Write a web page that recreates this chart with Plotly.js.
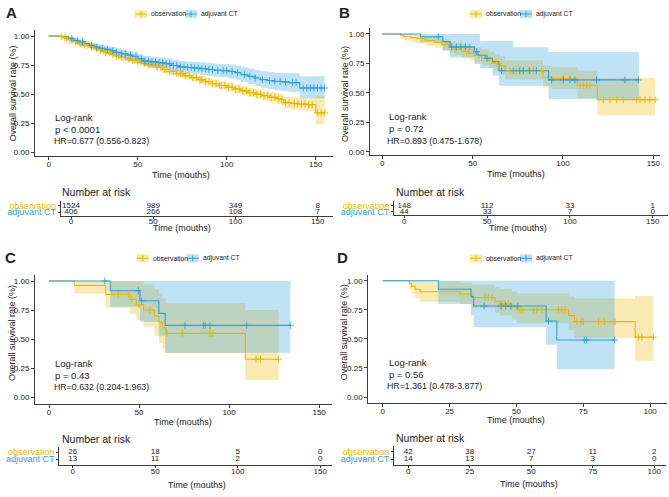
<!DOCTYPE html>
<html>
<head>
<meta charset="utf-8">
<script src="https://cdn.plot.ly/plotly-3.0.1.min.js"></script>
<style>
  html, body { margin: 0; padding: 0; background: #fff; }
  #chart { width: 669px; height: 497px; }
</style>
</head>
<body>
<div id="chart"></div>
<script>
// ---------------- Kaplan-Meier data (time in months, survival proportion) ----------------
const groupNames = ['observation', 'adjuvant CT'];

// Panel A
const aObsTime  = [0,6,8,10,12,14,16,18,20,23,26,29,32,35,38,41,44,47,50,53,56,60,64,68,72,76,80,84,88,92,96,100,104,108,112,116,120,124,128,131,132,136,140,145,150,155];
const aObsSurv  = [1.0,0.996,0.988,0.978,0.966,0.952,0.94,0.93,0.92,0.905,0.89,0.872,0.855,0.842,0.828,0.815,0.803,0.79,0.778,0.765,0.752,0.732,0.713,0.695,0.677,0.658,0.642,0.625,0.608,0.59,0.575,0.56,0.545,0.529,0.514,0.5,0.487,0.474,0.462,0.454,0.428,0.422,0.416,0.41,0.34,0.34];
const aObsLower = [1.0,0.993,0.983,0.971,0.957,0.942,0.929,0.918,0.906,0.89,0.874,0.855,0.837,0.823,0.808,0.794,0.781,0.767,0.754,0.74,0.726,0.705,0.685,0.666,0.647,0.627,0.61,0.592,0.574,0.555,0.539,0.523,0.507,0.49,0.474,0.459,0.445,0.43,0.416,0.406,0.378,0.37,0.363,0.355,0.24,0.24];
const aObsUpper = [1.0,0.999,0.993,0.985,0.975,0.962,0.951,0.942,0.934,0.92,0.906,0.889,0.873,0.861,0.848,0.836,0.825,0.813,0.802,0.79,0.778,0.759,0.741,0.724,0.707,0.689,0.674,0.658,0.642,0.625,0.611,0.597,0.583,0.568,0.554,0.541,0.529,0.518,0.508,0.502,0.478,0.474,0.469,0.465,0.483,0.483];
const aObsCensor = [7,9,10,12,13,15,17,18,20,22,24,25,27,29,31,32,34,36,38,39,41,43,45,47,48,50,52,54,56,57,59,61,63,65,66,68,70,72,74,75,77,79,81,83,85,86,88,90,92,94,96,97,99,101,103,105,107,109,111,113,115,117,119,121,123,125,127,129,131,133,135,138,140,142,144,146,148,151,153,155];

const aAdjTime  = [0,8,11,14,17,20,23,26,29,32,35,38,41,44,47,50,53,57,61,65,69,73,77,81,85,89,93,97,101,105,108,112,116,119,123,127,131,135,141,155];
const aAdjSurv  = [1.0,0.995,0.98,0.962,0.95,0.935,0.92,0.906,0.895,0.885,0.873,0.86,0.848,0.836,0.826,0.805,0.785,0.778,0.77,0.762,0.747,0.735,0.73,0.725,0.72,0.712,0.706,0.703,0.695,0.685,0.668,0.655,0.64,0.626,0.618,0.61,0.606,0.6,0.554,0.554];
const aAdjLower = [1.0,0.988,0.968,0.946,0.93,0.913,0.896,0.88,0.867,0.855,0.841,0.826,0.812,0.799,0.787,0.764,0.742,0.734,0.725,0.715,0.699,0.685,0.679,0.673,0.667,0.657,0.65,0.646,0.636,0.624,0.605,0.589,0.571,0.555,0.545,0.535,0.528,0.52,0.465,0.465];
const aAdjUpper = [1.0,1.0,0.992,0.978,0.97,0.957,0.944,0.932,0.923,0.915,0.905,0.894,0.884,0.873,0.865,0.846,0.828,0.822,0.815,0.809,0.795,0.785,0.781,0.777,0.773,0.767,0.762,0.76,0.754,0.746,0.731,0.721,0.709,0.697,0.691,0.685,0.684,0.68,0.655,0.655];
const aAdjCensor = [13,16,19,24,27,30,33,36,38,41,43,46,49,52,54,56,58,60,62,64,66,68,70,72,74,76,78,80,82,84,86,88,90,92,95,98,100,103,106,110,113,116,120,124,127,130,133,137,139,143,145,147,149,151,153,155];

// Panel B
const bObsTime  = [0,10,12,16,19,24,29,33,37,40,44,48,51,55,59,62,65,68,89,94,108,119,151];
const bObsSurv  = [1,0.99,0.977,0.97,0.962,0.945,0.93,0.91,0.89,0.872,0.852,0.835,0.82,0.8,0.775,0.755,0.728,0.69,0.632,0.62,0.564,0.442,0.442];
const bObsLower = [1,0.96,0.945,0.93,0.92,0.9,0.885,0.862,0.84,0.82,0.797,0.777,0.76,0.736,0.708,0.685,0.655,0.614,0.546,0.532,0.454,0.309,0.309];
const bObsUpper = [1,1,1,1,0.992,0.98,0.97,0.955,0.94,0.927,0.91,0.897,0.885,0.87,0.85,0.833,0.81,0.776,0.73,0.72,0.69,0.626,0.626];
const bObsCensor = [40.2,46.7,50.4,55,57.8,60.5,63.3,66,70.7,74.4,78,80.8,83.6,88.2,100.2,103.9,109.4,111.2,113.1,114.9,122.3,126,129.7,133.4,140.8,142.6,145.4,148.1,151];

const bAdjTime  = [0,21,33.5,37.5,51,53,57,61,64.5,92,142];
const bAdjSurv  = [1,0.977,0.935,0.89,0.85,0.82,0.793,0.765,0.688,0.61,0.61];
const bAdjBandTime = [0,21,33.5,37.5,51,54,61,64.5,72.5,92,142];
const bAdjLower = [1,0.93,0.86,0.8,0.745,0.71,0.645,0.56,0.56,0.448,0.448];
const bAdjUpper = [1,1,1,1,1,0.94,0.94,0.94,0.887,0.847,0.847];
const bAdjCensor = [31,38.4,41,43.5,46,48.5,52.2,58,66,72.5,76,78,81.6,85.3,93.7,100.2,103.9,106.6,118.6,134.3,141.7];

// Panel C
const cObsTime  = [0,14,31.5,45,48.5,52.5,58.5,61,63,65,109,127.5];
const cObsSurv  = [1,0.962,0.885,0.843,0.796,0.751,0.7,0.65,0.6,0.551,0.329,0.329];
const cObsLower = [1,0.894,0.77,0.72,0.666,0.61,0.53,0.47,0.42,0.38,0.151,0.151];
const cObsUpper = [1,1,1,1,1,0.97,0.93,0.89,0.85,0.81,0.751,0.751];
const cObsCensor = [38.5,44,46,50,56,65.5,74,89,90,91,115,117.5,127.5];

const cAdjTime  = [0,34,50.5,61,64.5,134];
const cAdjSurv  = [1,0.917,0.831,0.723,0.62,0.62];
const cAdjLower = [1,0.78,0.65,0.53,0.386,0.386];
const cAdjUpper = [1,1,1,1,1,1];
const cAdjCensor = [31,49.6,51.5,75.5,85.7,86.7,89.4,109.8,134];

// Panel D
const dObsTime  = [0,9.9,10.8,12.1,14,28.9,33.3,42,43.9,48.3,50.1,69.5,71.7,94.4,101.2];
const dObsSurv  = [1,0.977,0.95,0.927,0.905,0.883,0.856,0.822,0.8,0.774,0.75,0.7,0.648,0.515,0.515];
const dObsLower = [1,0.93,0.885,0.85,0.82,0.8,0.765,0.725,0.7,0.665,0.635,0.575,0.51,0.312,0.312];
const dObsUpper = [1,1,1,1,0.995,0.985,0.965,0.945,0.93,0.91,0.89,0.865,0.848,0.868,0.868];
const dObsCensor = [38.3,39.5,40.8,44.5,45.7,47,51.4,52.2,56.4,57.6,59.5,65.7,67,68.2,72.6,74.2,75,80.7,82.9,86.3,86.9,95.6,96.9,101.2];

const dAdjTime  = [0,20.8,33,34,61.1,65.1,86.7];
const dAdjSurv  = [1,0.926,0.862,0.782,0.653,0.49,0.49];
const dAdjLower = [1,0.8,0.7,0.6,0.45,0.238,0.238];
const dAdjUpper = [1,1,1,1,1,1,1];
const dAdjCensor = [37.9,44.3,46,47.9,50.5,62,75.4,76.3,86.7];

// Number at risk tables
const riskTimes150 = [0,50,100,150];
const riskTimes100 = [0,25,50,75,100];
const aRiskObs = [1524,989,349,8];  const aRiskAdj = [406,266,108,7];
const bRiskObs = [148,112,33,1];    const bRiskAdj = [44,33,7,0];
const cRiskObs = [26,18,5,0];       const cRiskAdj = [13,11,2,0];
const dRiskObs = [42,38,27,11,2];   const dRiskAdj = [14,13,7,3,0];

// Test statistics
const statsA = ['Log-rank', 'p < 0.0001', 'HR=0.677 (0.556-0.823)'];
const statsB = ['Log-rank', 'p = 0.72',   'HR=0.893 (0.475-1.678)'];
const statsC = ['Log-rank', 'p = 0.43',   'HR=0.632 (0.204-1.963)'];
const statsD = ['Log-rank', 'p = 0.56',   'HR=1.361 (0.478-3.877)'];

const xTitle = 'Time (mouths)';
const yTitle = 'Overall survival rate (%)';
const riskTitle = 'Number at risk';
const survTicks = [0, 0.25, 0.5, 0.75, 1];
const survTickText = ['0.00', '0.25', '0.50', '0.75', '1.00'];

// ---------------- styling & geometry (pixel based) ----------------
const W = 669, H = 497;
const fx = p => p / W;
const fy = p => 1 - p / H;
const FONT = '"Liberation Sans", Arial, Helvetica, sans-serif';
const INK = '#222222';
const AXIS = '#3c3c3c';
const COLOR = { obs: '#E7B800', adj: '#2E9FDF' };
const FILL  = { obs: 'rgba(231,184,0,0.3)', adj: 'rgba(46,159,223,0.3)' };

const panels = [
  { letter: 'A', xTicks: riskTimes150, riskTimes: riskTimes150, riskObs: aRiskObs, riskAdj: aRiskAdj, stats: statsA,
    obs: { time: aObsTime, surv: aObsSurv, bandTime: aObsTime, lower: aObsLower, upper: aObsUpper, censor: aObsCensor },
    adj: { time: aAdjTime, surv: aAdjSurv, bandTime: aAdjTime, lower: aAdjLower, upper: aAdjUpper, censor: aAdjCensor },
    g: { main: { x: [35, 333], y: [30.2, 156], xr: [-7.7, 159.7], yr: [-0.03, 1.05] },
         risk: { x: [60.7, 333], y: [201, 215.5], xr: [-6.26, 159.3], yr: [-0.485, 1.71] },
         letterPos: [11, 13], legend: [135, 185, 14], yTitle: [12, 93.5], xTitle: [181.3, 175],
         stats: [53.3, 117.3, 129, 51.7, 141], nar: [60, 191.7], riskTitle: [182.5, 228.3] } },
  { letter: 'B', xTicks: riskTimes150, riskTimes: riskTimes150, riskObs: bRiskObs, riskAdj: bRiskAdj, stats: statsB,
    obs: { time: bObsTime, surv: bObsSurv, bandTime: bObsTime, lower: bObsLower, upper: bObsUpper, censor: bObsCensor },
    adj: { time: bAdjTime, surv: bAdjSurv, bandTime: bAdjBandTime, lower: bAdjLower, upper: bAdjUpper, censor: bAdjCensor },
    g: { main: { x: [370, 660], y: [28.1, 155], xr: [-6.8, 153.7], yr: [-0.028, 1.05] },
         risk: { x: [394, 668], y: [201, 215], xr: [-6.2, 159.2], yr: [-0.55, 1.78] },
         letterPos: [344, 12.5], legend: [470, 520, 14], yTitle: [345, 94], xTitle: [516.3, 174],
         stats: [386.7, 116.7, 128.3, 385, 141], nar: [394.3, 192], riskTitle: [517.5, 228.3] } },
  { letter: 'C', xTicks: riskTimes150, riskTimes: riskTimes150, riskObs: cRiskObs, riskAdj: cRiskAdj, stats: statsC,
    obs: { time: cObsTime, surv: cObsSurv, bandTime: cObsTime, lower: cObsLower, upper: cObsUpper, censor: cObsCensor },
    adj: { time: cAdjTime, surv: cAdjSurv, bandTime: cAdjTime, lower: cAdjLower, upper: cAdjUpper, censor: cAdjCensor },
    g: { main: { x: [35, 331.7], y: [275.2, 404.3], xr: [-7.8, 157], yr: [-0.057, 1.05] },
         risk: { x: [59.3, 331.7], y: [447, 465], xr: [-8.1, 157], yr: [-0.81, 1.76] },
         letterPos: [10, 257], legend: [136.7, 186.7, 258.3], yTitle: [12, 333], xTitle: [182.8, 421.7],
         stats: [53.3, 363.3, 375, 51.7, 386.7], nar: [60, 439], riskTitle: [196.7, 485] } },
  { letter: 'D', xTicks: riskTimes100, riskTimes: riskTimes100, riskObs: dRiskObs, riskAdj: dRiskAdj, stats: statsD,
    obs: { time: dObsTime, surv: dObsSurv, bandTime: dObsTime, lower: dObsLower, upper: dObsUpper, censor: dObsCensor },
    adj: { time: dAdjTime, surv: dAdjSurv, bandTime: dAdjTime, lower: dAdjLower, upper: dAdjUpper, censor: dAdjCensor },
    g: { main: { x: [368.3, 666.7], y: [274.9, 403.3], xr: [-5.4, 106.2], yr: [-0.054, 1.05] },
         risk: { x: [394, 666], y: [446, 465], xr: [-5.81, 104.8], yr: [-0.82, 1.78] },
         letterPos: [342, 257], legend: [470, 520, 258.3], yTitle: [344.3, 332], xTitle: [516.3, 420],
         stats: [386.7, 362.7, 374.3, 385, 386], nar: [394.3, 438.3], riskTitle: [529, 484] } }
];

// survival value of a step curve at time t
function survAt(times, surv, t) {
  let v = surv[0];
  for (let i = 0; i < times.length; i++) { if (times[i] <= t) v = surv[i]; else break; }
  return v;
}

const traces = [];
const layout = {
  width: W, height: H,
  margin: { l: 0, r: 0, t: 0, b: 0 },
  paper_bgcolor: '#ffffff', plot_bgcolor: '#ffffff',
  showlegend: false,
  font: { family: FONT, color: INK },
  annotations: [], shapes: []
};

const ann = (text, x, y, size, extra) => Object.assign({
  text, x: fx(x), y: fy(y), xref: 'paper', yref: 'paper', showarrow: false,
  xanchor: 'center', yanchor: 'middle', font: { size, family: FONT, color: INK }
}, extra || {});

const baseAxis = {
  showline: true, linecolor: AXIS, linewidth: 1, ticks: 'outside', ticklen: 3, tickwidth: 1,
  tickcolor: AXIS, showgrid: false, zeroline: false, fixedrange: true,
  tickfont: { size: 8, family: FONT, color: INK }
};

panels.forEach((p, i) => {
  const nMain = 2 * i + 1, nRisk = 2 * i + 2;
  const xm = nMain === 1 ? 'x' : 'x' + nMain, ym = nMain === 1 ? 'y' : 'y' + nMain;
  const xr = 'x' + nRisk, yr = 'y' + nRisk;
  const g = p.g;

  layout[nMain === 1 ? 'xaxis' : 'xaxis' + nMain] = Object.assign({}, baseAxis, {
    domain: [fx(g.main.x[0]), fx(g.main.x[1])], range: g.main.xr, anchor: ym, tickvals: p.xTicks,
    ticklabelstandoff: -3 });
  layout[nMain === 1 ? 'yaxis' : 'yaxis' + nMain] = Object.assign({}, baseAxis, {
    domain: [fy(g.main.y[1]), fy(g.main.y[0])], range: g.main.yr, anchor: xm,
    tickvals: survTicks, ticktext: survTickText });
  layout['xaxis' + nRisk] = Object.assign({}, baseAxis, {
    domain: [fx(g.risk.x[0]), fx(g.risk.x[1])], range: g.risk.xr, anchor: yr, tickvals: p.riskTimes, ticklen: 2,
    ticklabelstandoff: -4 });
  layout['yaxis' + nRisk] = Object.assign({}, baseAxis, {
    domain: [fy(g.risk.y[1]), fy(g.risk.y[0])], range: g.risk.yr, anchor: xr, ticklen: 2,
    tickvals: [0, 1],
    ticktext: ['<span style="color:' + COLOR.adj + '">' + groupNames[1] + '</span>',
               '<span style="color:' + COLOR.obs + '">' + groupNames[0] + '</span>'],
    tickfont: { size: 9, family: FONT } });

  // confidence bands
  ['obs', 'adj'].forEach(k => {
    const s = p[k];
    traces.push({ x: s.bandTime, y: s.lower, xaxis: xm, yaxis: ym, mode: 'lines',
      line: { width: 0, shape: 'hv', color: FILL[k] }, hoverinfo: 'skip' });
    traces.push({ x: s.bandTime, y: s.upper, xaxis: xm, yaxis: ym, mode: 'lines', fill: 'tonexty',
      fillcolor: FILL[k], line: { width: 0, shape: 'hv', color: FILL[k] }, hoverinfo: 'skip' });
  });
  // survival curves
  ['obs', 'adj'].forEach(k => {
    const s = p[k];
    traces.push({ x: s.time, y: s.surv, xaxis: xm, yaxis: ym, mode: 'lines',
      name: k === 'obs' ? groupNames[0] : groupNames[1],
      line: { width: 1.1, shape: 'hv', color: COLOR[k] } });
  });
  // censoring marks
  ['obs', 'adj'].forEach(k => {
    const s = p[k];
    traces.push({ x: s.censor, y: s.censor.map(t => survAt(s.time, s.surv, t)), xaxis: xm, yaxis: ym,
      mode: 'markers', hoverinfo: 'skip', cliponaxis: false,
      marker: { symbol: 'cross-thin', size: 5, color: COLOR[k], line: { width: 0.9, color: COLOR[k] } } });
  });
  // number at risk table
  traces.push({ x: p.riskTimes, y: p.riskTimes.map(() => 1), text: p.riskObs.map(String), xaxis: xr, yaxis: yr,
    mode: 'text', textposition: 'middle center', cliponaxis: false, hoverinfo: 'skip',
    textfont: { size: 8, family: FONT, color: INK } });
  traces.push({ x: p.riskTimes, y: p.riskTimes.map(() => 0), text: p.riskAdj.map(String), xaxis: xr, yaxis: yr,
    mode: 'text', textposition: 'middle center', cliponaxis: false, hoverinfo: 'skip',
    textfont: { size: 8, family: FONT, color: INK } });

  // text
  layout.annotations.push(ann('<b>' + p.letter + '</b>', g.letterPos[0], g.letterPos[1], 15));
  layout.annotations.push(ann(yTitle, g.yTitle[0], g.yTitle[1], 9, { textangle: -90 }));
  layout.annotations.push(ann(xTitle, g.xTitle[0], g.xTitle[1], 9));
  layout.annotations.push(ann(xTitle, g.riskTitle[0], g.riskTitle[1], 9));
  layout.annotations.push(ann(riskTitle, g.nar[0], g.nar[1], 10.5, { xanchor: 'left' }));
  layout.annotations.push(ann(p.stats[0], g.stats[0], g.stats[1], 9.5, { xanchor: 'left' }));
  layout.annotations.push(ann(p.stats[1], g.stats[0], g.stats[2], 9.5, { xanchor: 'left' }));
  layout.annotations.push(ann(p.stats[2], g.stats[3], g.stats[4], 8.8, { xanchor: 'left' }));

  // legend keys: band swatch + line + cross
  [['obs', g.legend[0]], ['adj', g.legend[1]]].forEach(([k, bx]) => {
    const ly = g.legend[2];
    layout.shapes.push({ type: 'rect', xref: 'paper', yref: 'paper', x0: fx(bx), x1: fx(bx + 12),
      y0: fy(ly + 4), y1: fy(ly - 4), fillcolor: FILL[k], line: { width: 0 } });
    layout.shapes.push({ type: 'line', xref: 'paper', yref: 'paper', x0: fx(bx), x1: fx(bx + 12),
      y0: fy(ly), y1: fy(ly), line: { width: 1, color: COLOR[k] } });
    layout.shapes.push({ type: 'line', xref: 'paper', yref: 'paper', x0: fx(bx + 6), x1: fx(bx + 6),
      y0: fy(ly - 3), y1: fy(ly + 3), line: { width: 1, color: COLOR[k] } });
    layout.annotations.push(ann(k === 'obs' ? groupNames[0] : groupNames[1], bx + 14, ly, 6.8, { xanchor: 'left' }));
  });
});

Plotly.newPlot('chart', traces, layout, { staticPlot: true, displayModeBar: false });
</script>
</body>
</html>
